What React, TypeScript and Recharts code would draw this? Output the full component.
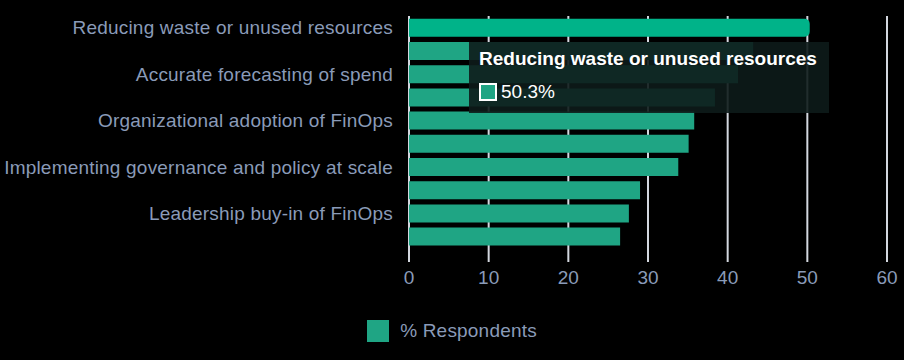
import { BarChart, Bar, XAxis, YAxis, CartesianGrid, Tooltip, Legend } from 'recharts'

// Colors (dark background, teal bars)
const BAR = '#1fa584'
const BAR_ACTIVE = '#00b389'
const TEXT = '#8a9bb8'
const GRID = '#d3d7df'
const FONT = '"Liberation Sans", Arial, Helvetica, sans-serif'

const categories = [
  'Reducing waste or unused resources',
  'Empowering engineers to take action',
  'Accurate forecasting of spend',
  'Full allocation of cloud spend',
  'Organizational adoption of FinOps',
  'Managing commitment based discounts',
  'Implementing governance and policy at scale',
  'Integrating data from multiple sources',
  'Leadership buy-in of FinOps',
  'Accounting for shared costs',
]
const respondents = [50.3, 43.2, 41.3, 38.4, 35.8, 35.1, 33.8, 29.0, 27.6, 26.5]
const xTicks = [0, 10, 20, 30, 40, 50, 60]

const data = categories.map((name, i) => ({ name, value: respondents[i] }))

function TipBox({ active, payload, label }: any) {
  if (!active || !payload || !payload.length) return null
  return (
    <div
      style={{
        background: 'rgba(13,27,25,0.9)',
        padding: '6px 12px 10px 10px',
        fontFamily: FONT,
        color: '#fff',
        whiteSpace: 'nowrap',
      }}
    >
      <div style={{ fontWeight: 700, fontSize: 19, lineHeight: '22px' }}>{label}</div>
      <div style={{ display: 'flex', alignItems: 'center', marginTop: 11, fontSize: 19, lineHeight: '22px' }}>
        <span
          style={{
            display: 'inline-block',
            width: 18,
            height: 18,
            boxSizing: 'border-box',
            border: '2px solid #fff',
            background: BAR,
            marginRight: 4,
          }}
        />
        {payload[0].value}%
      </div>
    </div>
  )
}

function LegendBox() {
  return (
    <div style={{ display: 'flex', justifyContent: 'center', alignItems: 'center', height: 24, fontFamily: FONT }}>
      <span style={{ display: 'inline-block', width: 22, height: 22, background: BAR, marginRight: 11 }} />
      <span style={{ fontSize: 19, color: TEXT, letterSpacing: 0.2 }}>% Respondents</span>
    </div>
  )
}

export default function App() {
  return (
    <div style={{ width: 904, height: 360, background: '#000' }}>
      <style>{`body{margin:0;background:#000}`}</style>
      <BarChart
        width={904}
        height={360}
        data={data}
        layout="vertical"
        margin={{ top: 16, right: 17, bottom: 48, left: 0 }}
        barCategoryGap="12%"
      >
        <CartesianGrid horizontal={false} stroke={GRID} strokeWidth={2} />
        <XAxis
          type="number"
          domain={[0, 60]}
          ticks={xTicks}
          height={40}
          axisLine={false}
          tickSize={14}
          tickMargin={9}
          tickLine={{ stroke: GRID, strokeWidth: 2 }}
          tick={{ fontSize: 19, fill: TEXT, fontFamily: FONT }}
        />
        <YAxis
          type="category"
          dataKey="name"
          width={409}
          interval={1}
          axisLine={false}
          tickLine={false}
          tickMargin={10}
          tick={{ fontSize: 19, fill: TEXT, fontFamily: FONT, letterSpacing: 0.2 }}
        />
        <Tooltip
          defaultIndex={0}
          active
          cursor={false}
          position={{ x: 469, y: 42 }}
          content={<TipBox />}
          isAnimationActive={false}
        />
        <Legend content={<LegendBox />} wrapperStyle={{ left: 0, width: 904, bottom: 17 }} />
        <Bar
          dataKey="value"
          name="% Respondents"
          fill={BAR}
          activeBar={{ fill: BAR_ACTIVE, radius: [0, 5, 5, 0] }}
          isAnimationActive={false}
        />
      </BarChart>
    </div>
  )
}
